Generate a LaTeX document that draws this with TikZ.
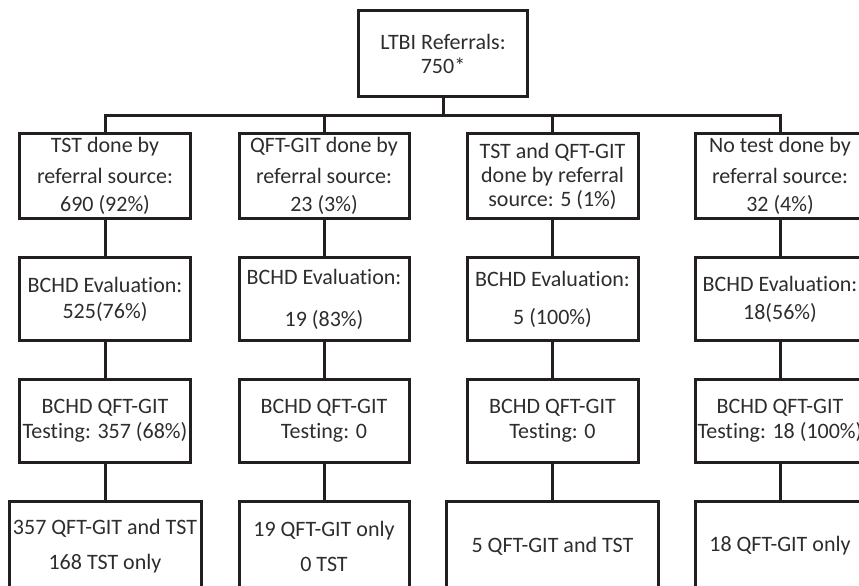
\documentclass[tikz,border=0pt]{standalone}
\usepackage{fontspec}
\setmainfont{Carlito}[Ligatures=NoCommon]
\usetikzlibrary{positioning}
\definecolor{boxline}{RGB}{35,31,32}
\definecolor{boxtext}{RGB}{45,45,45}
\tikzset{
  flowbox/.style={draw=boxline,line width=3pt,minimum width=171pt,minimum height=83pt,
    inner sep=2pt,align=center,text=boxtext,font=\fontsize{22}{25}\selectfont},
  conn/.style={draw=boxline,line width=3pt}
}

\begin{document}
\begin{tikzpicture}[x=1pt,y=-1pt]
            \clip (0,0) rectangle (859,586);
            \node[flowbox,minimum width=169pt,minimum height=86pt] (ref) at (443,53.5) {LTBI Referrals:\\[-1pt]750*};
            \coordinate (split) at (443,115);
            % referral source
            \node[flowbox,minimum height=85pt] (tst) at (105,176) {TST done by\\[6pt]referral source:\\[3pt]690 (92\%)};
            \node[flowbox,minimum width=170pt,minimum height=85pt] (qft) at (324,176) {QFT-GIT done by\\[6pt]referral source:\\[3pt]23 (3\%)};
            \node[flowbox,minimum height=85pt] (both) at (552.5,176) {TST and QFT-GIT\\[-1pt]done by referral\\[-1pt]source: 5 (1\%)};
            \node[flowbox,minimum width=170pt,minimum height=85pt] (none) at (780,176) {No test done by\\[6pt]referral source:\\[3pt]32 (4\%)};
            % evaluation
            \node[flowbox] (tstev) at (105,299) {BCHD Evaluation:\\[1pt]525(76\%)};
            \node[flowbox,minimum width=170pt] (qftev) at (324,299) {BCHD Evaluation:\\[17pt]19 (83\%)};
            \node[flowbox] (bothev) at (552.5,299) {BCHD Evaluation:\\[13pt]5 (100\%)};
            \node[flowbox,minimum width=170pt] (noneev) at (780,299) {BCHD Evaluation:\\[3pt]18(56\%)};
            % testing
            \node[flowbox] (tstqg) at (105,421) {BCHD QFT-GIT\\Testing: 357 (68\%)};
            \node[flowbox,minimum width=170pt] (qftqg) at (324,421) {BCHD QFT-GIT\\Testing: 0};
            \node[flowbox] (bothqg) at (552.5,421) {BCHD QFT-GIT\\Testing: 0};
            \node[flowbox,minimum width=170pt] (noneqg) at (780,421) {BCHD QFT-GIT\\Testing: 18 (100\%)};
            % results
            \node[flowbox,minimum width=192pt,minimum height=90pt] (tstres) at (105,546) {357 QFT-GIT and TST\\[10pt]168 TST only};
            \node[flowbox,minimum width=170pt,minimum height=90pt] (qftres) at (324,546) {19 QFT-GIT only\\[10pt]0 TST};
            \node[flowbox,minimum width=212pt,minimum height=90pt] (bothres) at (552.5,546) {5 QFT-GIT and TST};
            \node[flowbox,minimum width=170pt,minimum height=90pt] (noneres) at (780,546) {18 QFT-GIT only};
            \draw[conn] (ref.south) -- (split);
            \foreach \n in {tst,qft,both,none}{
                \draw[conn] (\n.north) |- (split);
                \draw[conn] (\n) -- (\n ev);
                \draw[conn] (\n ev) -- (\n qg);
                \draw[conn] (\n qg) -- (\n res);
            }
        \end{tikzpicture}
\end{document}
